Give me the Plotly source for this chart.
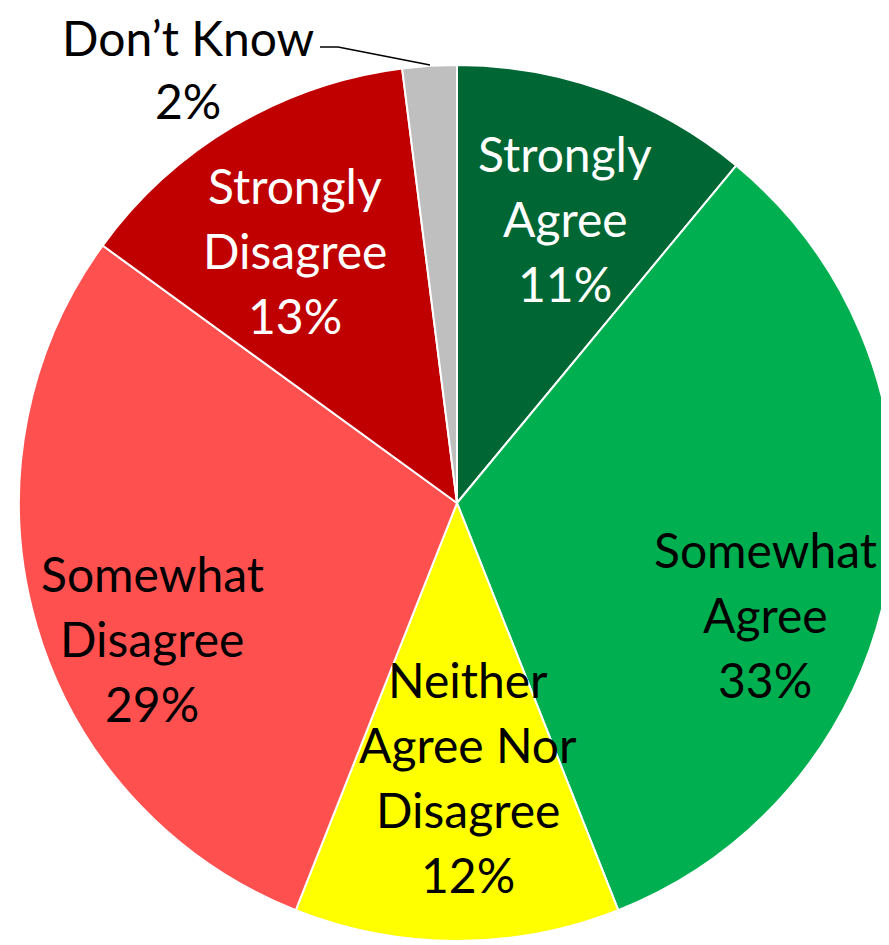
import plotly.graph_objects as go

categories = ["Strongly Agree", "Somewhat Agree", "Neither Agree Nor Disagree",
              "Somewhat Disagree", "Strongly Disagree", "Don’t Know"]
display_lines = [["Strongly", "Agree"], ["Somewhat", "Agree"], ["Neither", "Agree Nor", "Disagree"],
                 ["Somewhat", "Disagree"], ["Strongly", "Disagree"], ["Don’t Know"]]
values = [11, 33, 12, 29, 13, 2]
colors = ["#006633", "#00B050", "#FFFF00", "#FF5050", "#C00000", "#BFBFBF"]
text_colors = ["white", "black", "black", "black", "white", "black"]

# layout (page pixel positions of label block centres, line pitch)
label_pos = [(565, 218), (765, 614), (468, 777), (152, 638), (295, 250), (188, 69)]
pitches = [65, 65, 65, 65, 65, 63]

W, H = 889, 945
OFF = 8  # page body margin
FONT = "Lato"
FS = 48

# pie geometry in figure pixels
cx, cy, R = 457 - OFF, 503 - OFF, 438

fig = go.Figure(go.Pie(
    labels=categories,
    values=values,
    textinfo="none",
    sort=False,
    direction="clockwise",
    rotation=0,
    marker=dict(colors=colors, line=dict(color="white", width=2)),
    domain=dict(x=[(cx - R) / W, (cx + R) / W], y=[(H - cy - R) / H, (H - cy + R) / H]),
    showlegend=False,
    hoverinfo="label+percent",
))

for lines, v, col, (px, py), pitch in zip(display_lines, values, text_colors, label_pos, pitches):
    all_lines = lines + [f"{v}%"]
    n = len(all_lines)
    for i, t in enumerate(all_lines):
        ly = py + (i - (n - 1) / 2) * pitch
        fig.add_annotation(
            x=(px - OFF) / W, y=(H - (ly - OFF)) / H, xref="paper", yref="paper",
            text=t, showarrow=False,
            font=dict(family=FONT, size=FS, color=col),
            xanchor="center", yanchor="middle", borderpad=0,
        )

# leader line for Don't Know
fig.add_shape(type="line", xref="paper", yref="paper",
              x0=(320 - OFF) / W, y0=(H - (47 - OFF)) / H,
              x1=(338 - OFF) / W, y1=(H - (47 - OFF)) / H,
              line=dict(color="black", width=1.5))
fig.add_shape(type="line", xref="paper", yref="paper",
              x0=(338 - OFF) / W, y0=(H - (47 - OFF)) / H,
              x1=(430 - OFF) / W, y1=(H - (65 - OFF)) / H,
              line=dict(color="black", width=1.5))

fig.update_layout(
    width=W, height=H,
    margin=dict(l=0, r=0, t=0, b=0),
    paper_bgcolor="white",
    plot_bgcolor="white",
)

fig.write_html("out.html")
